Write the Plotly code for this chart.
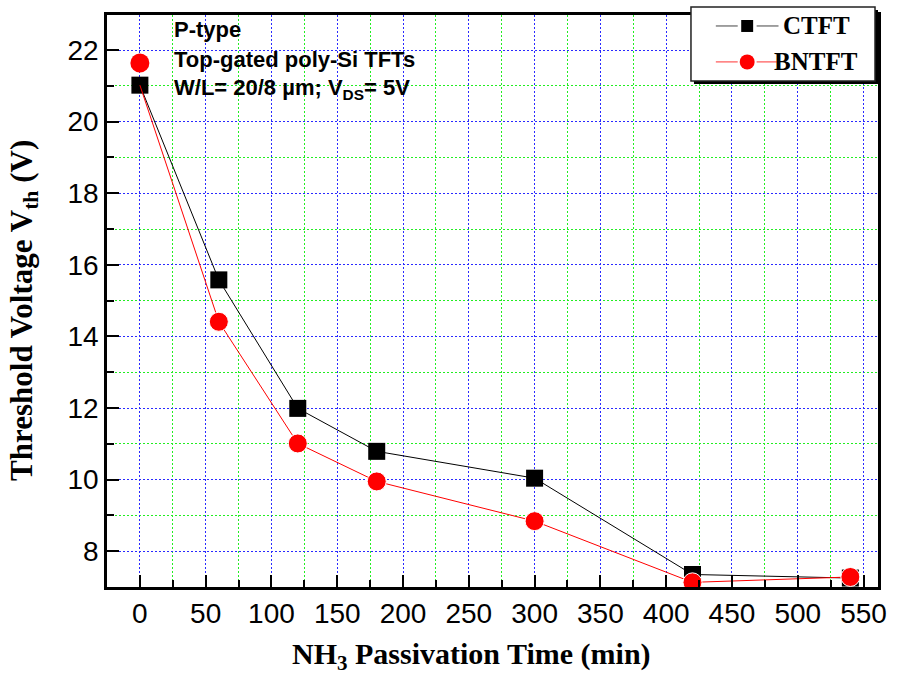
import plotly.graph_objects as go

time_min = [0, 60, 120, 180, 300, 420, 540]
ctft_vth = [21.02, 15.58, 11.99, 10.79, 10.04, 7.35, 7.25]
bntft_vth = [21.02, 14.41, 11.01, 9.95, 8.84, 7.13, 7.28]
bntft_first_marker = 21.64  # red circle drawn above the first point

x_ticks = list(range(0, 551, 50))
y_ticks = list(range(8, 23, 2))
legend_names = ["CTFT", "BNTFT"]

W, H = 899, 680
ml, mr, mt, mb = 107, 17, 14, 93

fig = go.Figure()

fig.add_trace(go.Scatter(
    x=time_min, y=ctft_vth, mode="lines+markers", name="CTFT", showlegend=False,
    line=dict(color="black", width=1),
    marker=dict(symbol="square", size=17, color="black", opacity=1),
))
fig.add_trace(go.Scatter(
    x=time_min, y=bntft_vth, mode="lines+markers", name="BNTFT", showlegend=False,
    line=dict(color="red", width=1),
    marker=dict(symbol="circle", size=[0] + [19] * (len(time_min) - 1), color="red",
                opacity=1),
))
fig.add_trace(go.Scatter(
    x=time_min[:1], y=[bntft_first_marker], mode="markers", showlegend=False,
    marker=dict(symbol="circle", size=19, color="red", opacity=1),
))

tickfont = dict(family="Liberation Sans, Arial", size=28, color="black")
titlefont = dict(family="Liberation Serif, Times New Roman", size=30, color="black")
blue = "#2a2aff"
green = "#22ee22"
dash = "2px,2px"

fig.update_xaxes(
    range=[-25, 561], tickvals=x_ticks, ticks="inside", ticklen=12, tickwidth=2,
    tickcolor="black", showline=True, linecolor="black", linewidth=2.5, mirror=True,
    showgrid=True, gridcolor=blue, griddash=dash, gridwidth=1,
    minor=dict(dtick=25, tick0=0, ticks="inside", ticklen=7, tickwidth=2, tickcolor="black",
               showgrid=True, gridcolor=green, griddash=dash, gridwidth=1),
    tickfont=tickfont, zeroline=False,
)
fig.update_yaxes(
    range=[7.0, 22.98], tickvals=y_ticks, ticks="inside", ticklen=12, tickwidth=2,
    tickcolor="black", showline=True, linecolor="black", linewidth=2.5, mirror=True,
    showgrid=True, gridcolor=blue, griddash=dash, gridwidth=1,
    minor=dict(dtick=1, tick0=0, ticks="inside", ticklen=7, tickwidth=2, tickcolor="black",
               showgrid=True, gridcolor=green, griddash=dash, gridwidth=1),
    tickfont=tickfont, zeroline=False,
)

pw = W - ml - mr
ph = H - mt - mb


def px(xp):
    return (xp - ml) / pw


def py(yp):
    return (H - mb - yp) / ph


# axis titles (placed as in the reference, slightly off-centre)
fig.add_annotation(x=px(473), y=py(656), xref="paper", yref="paper",
                   text="<b>NH<sub>3</sub> Passivation Time (min)</b>", showarrow=False,
                   xanchor="center", yanchor="middle", font=titlefont)
fig.add_annotation(x=px(24), y=py(310), xref="paper", yref="paper",
                   text="<b>Threshold Voltage V<sub>th</sub> (V)</b>", showarrow=False,
                   textangle=-90, xanchor="center", yanchor="middle",
                   font=dict(family="Liberation Serif, Times New Roman", size=31,
                             color="black"))

annfont = dict(family="Liberation Sans, Arial", size=22, color="black")
for txt, yc in [("<b>P-type</b>", 29),
                ("<b>Top-gated poly-Si TFTs</b>", 59),
                ("<b>W/L= 20/8 µm; V<sub>DS</sub>= 5V</b>", 88)]:
    fig.add_annotation(x=px(172), y=py(yc), xref="paper", yref="paper", text=txt,
                       showarrow=False, xanchor="left", yanchor="middle", font=annfont)

# hand-drawn legend box (Origin style with shadow)
fig.add_shape(type="rect", xref="paper", yref="paper",
              x0=px(697), x1=px(882), y0=py(83), y1=py(9),
              fillcolor="black", line=dict(width=0), layer="above")
fig.add_shape(type="rect", xref="paper", yref="paper",
              x0=px(694), x1=px(879), y0=py(80), y1=py(6),
              fillcolor="white", line=dict(color="#222", width=1.5), layer="above")

legend_rows = [(legend_names[0], 25, "#444", "black", "square", 6),
               (legend_names[1], 61, "#ff3333", "red", "circle", 7.5)]
for name, yc, lcol, mcol, sym, r in legend_rows:
    for xa, xb in [(719, 741), (760, 782)]:
        fig.add_shape(type="line", xref="paper", yref="paper",
                      x0=px(xa), x1=px(xb), y0=py(yc), y1=py(yc),
                      line=dict(color=lcol, width=1), layer="above")
    fig.add_shape(type="rect" if sym == "square" else "circle", xref="paper", yref="paper",
                  x0=px(750.5 - r), x1=px(750.5 + r), y0=py(yc + r), y1=py(yc - r),
                  fillcolor=mcol, line=dict(width=0), layer="above")
    fig.add_annotation(x=px(820), y=py(yc), xref="paper", yref="paper",
                       text=f"<b>{name}</b>", showarrow=False, xanchor="center",
                       yanchor="middle",
                       font=dict(family="Liberation Serif, Times New Roman", size=25,
                                 color="black"))

fig.update_layout(
    width=W, height=H,
    margin=dict(l=ml, r=mr, t=mt, b=mb),
    paper_bgcolor="white", plot_bgcolor="white",
    showlegend=False,
)

fig.write_html("out.html")
